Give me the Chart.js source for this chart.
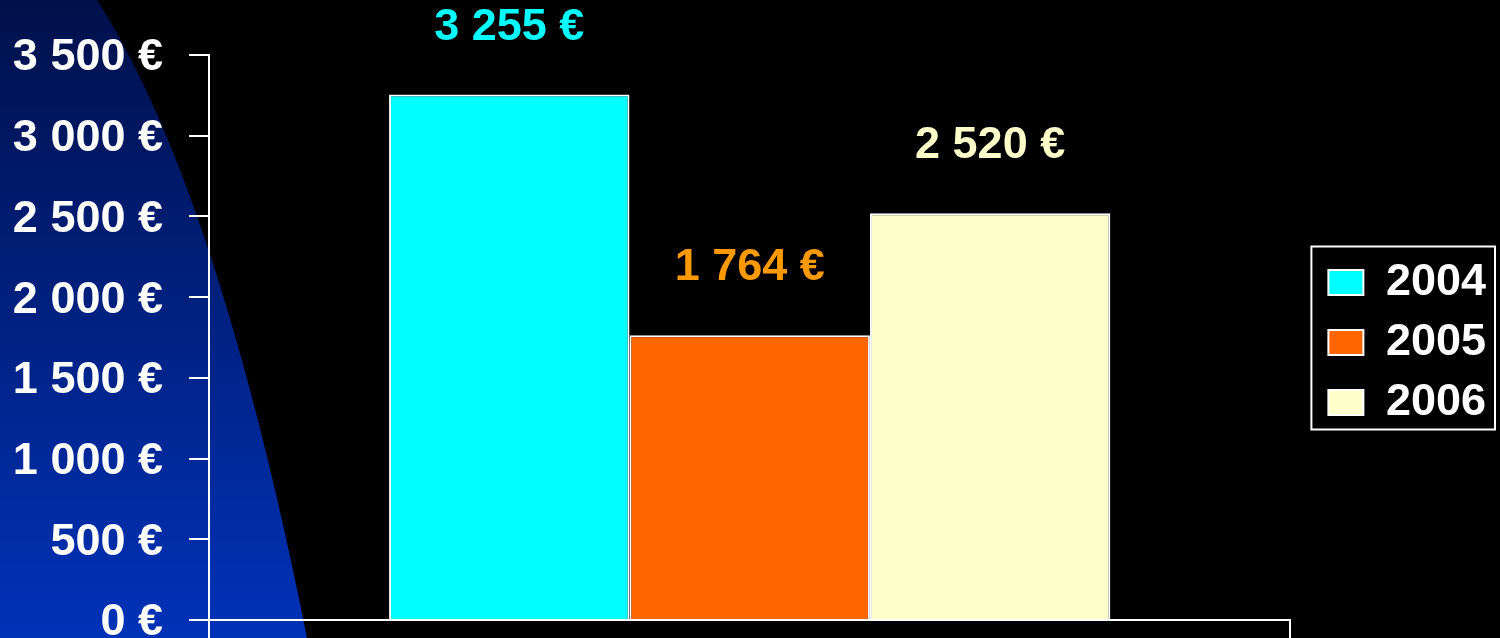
<!DOCTYPE html>
<html>
<head>
<meta charset="utf-8">
<script src="https://cdn.jsdelivr.net/npm/chart.js@4/dist/chart.umd.min.js"></script>
<style>
  html, body { margin: 0; padding: 0; background: #000; }
  #wrap { width: 1500px; height: 638px; position: relative; }
</style>
</head>
<body>
<div id="wrap"><canvas id="chart"></canvas></div>
<script>
// Data
const categories = [''];
const years = ['2004', '2005', '2006'];
const amounts = [3255, 1764, 2520];
const barColors = ['#00FFFF', '#FF6600', '#FFFFCC'];
const labelColors = ['#00FFFF', '#FF9900', '#FFFFCC'];
const yTicks = [0, 500, 1000, 1500, 2000, 2500, 3000, 3500];

const FONT = '"Liberation Sans", Arial, sans-serif';
const FONT_SIZE = 45;

function euro(v) {
    return String(v).replace(/\B(?=(\d{3})+(?!\d))/g, ' ') + ' €';
}

// blue swoosh on the left + black background
const backdrop = {
    id: 'backdrop',
    beforeDraw(chart) {
        const ctx = chart.ctx;
        const w = chart.width, h = chart.height;
        ctx.save();
        ctx.fillStyle = '#000';
        ctx.fillRect(0, 0, w, h);
        const grad = ctx.createLinearGradient(0, 0, 0, h);
        grad.addColorStop(0, '#00104a');
        grad.addColorStop(1, '#0032b8');
        ctx.fillStyle = grad;
        ctx.beginPath();
        ctx.moveTo(0, 0);
        ctx.lineTo(97, 0);
        ctx.quadraticCurveTo(217, 187, 307, 638);
        ctx.lineTo(0, 638);
        ctx.closePath();
        ctx.fill();
        ctx.restore();
    }
};

// value labels above the bars
const valueLabels = {
    id: 'valueLabels',
    afterDatasetsDraw(chart) {
        const ctx = chart.ctx;
        ctx.save();
        ctx.font = 'bold ' + FONT_SIZE + 'px ' + FONT;
        ctx.textAlign = 'center';
        ctx.textBaseline = 'alphabetic';
        chart.data.datasets.forEach((ds, i) => {
            const bar = chart.getDatasetMeta(i).data[0];
            ctx.fillStyle = labelColors[i];
            ctx.fillText(euro(ds.data[0]), bar.x, bar.y - 55);
        });
        ctx.restore();
    }
};

// nudge the legend up a little, then frame it
const legendFrame = {
    id: 'legendFrame',
    afterLayout(chart) {
        const lg = chart.legend;
        lg.top -= 4;
        lg.bottom -= 4;
    },
    afterDraw(chart) {
        const boxes = chart.legend.legendHitBoxes;
        if (!boxes || !boxes.length) return;
        const first = boxes[0], last = boxes[boxes.length - 1];
        const left = first.left - 17;
        const right = Math.max(...boxes.map(b => b.left + b.width)) + 9;
        const top = first.top + first.height / 2 - 36;
        const bottom = last.top + last.height / 2 + 27;
        const ctx = chart.ctx;
        ctx.save();
        ctx.strokeStyle = '#fff';
        ctx.lineWidth = 2;
        ctx.strokeRect(left, top, right - left, bottom - top);
        ctx.restore();
    }
};

new Chart(document.getElementById('chart'), {
    type: 'bar',
    data: {
        labels: categories,
        datasets: years.map((y, i) => ({
            label: y,
            data: [amounts[i]],
            backgroundColor: barColors[i],
            borderColor: '#fff',
            borderWidth: 2,
            categoryPercentage: 0.667,
            barPercentage: 1
        }))
    },
    options: {
        responsive: true,
        maintainAspectRatio: false,
        animation: false,
        layout: { padding: { top: 55, right: 4, left: 13, bottom: 0 } },
        plugins: {
            tooltip: { enabled: false },
            legend: {
                position: 'right',
                align: 'center',
                labels: {
                    color: '#fff',
                    font: { family: FONT, size: FONT_SIZE, weight: 'bold' },
                    boxWidth: 35,
                    boxHeight: 25,
                    padding: 15,
                    generateLabels(chart) {
                        return chart.data.datasets.map((ds, i) => ({
                            text: ds.label,
                            fillStyle: barColors[i],
                            strokeStyle: '#fff',
                            lineWidth: 2,
                            fontColor: '#fff',
                            datasetIndex: i
                        }));
                    }
                }
            }
        },
        scales: {
            x: {
                offset: true,
                grid: { display: true, drawOnChartArea: false, tickLength: 18, color: '#fff', lineWidth: 2 },
                border: { display: true, color: '#fff', width: 2 },
                ticks: { display: false }
            },
            y: {
                min: 0,
                max: 3500,
                afterBuildTicks(scale) {
                    scale.ticks = yTicks.map(v => ({ value: v }));
                },
                afterFit(scale) {
                    scale.width = 196;
                    scale.paddingTop = 0;
                    scale.paddingBottom = 0;
                },
                grid: { display: true, drawOnChartArea: false, tickLength: 20, color: '#fff', lineWidth: 2 },
                border: { display: true, color: '#fff', width: 2 },
                ticks: {
                    color: '#fff',
                    padding: 26,
                    labelOffset: 3,
                    font: { family: FONT, size: FONT_SIZE, weight: 'bold' },
                    callback: v => euro(v)
                }
            },
            // empty spacer between the plot and the legend
            gap: {
                type: 'linear',
                position: 'right',
                display: true,
                grid: { display: false },
                border: { display: false },
                ticks: { display: false },
                afterFit(scale) {
                    scale.width = 23;
                    scale.paddingTop = 0;
                    scale.paddingBottom = 0;
                }
            }
        }
    },
    plugins: [backdrop, valueLabels, legendFrame]
});
</script>
</body>
</html>
